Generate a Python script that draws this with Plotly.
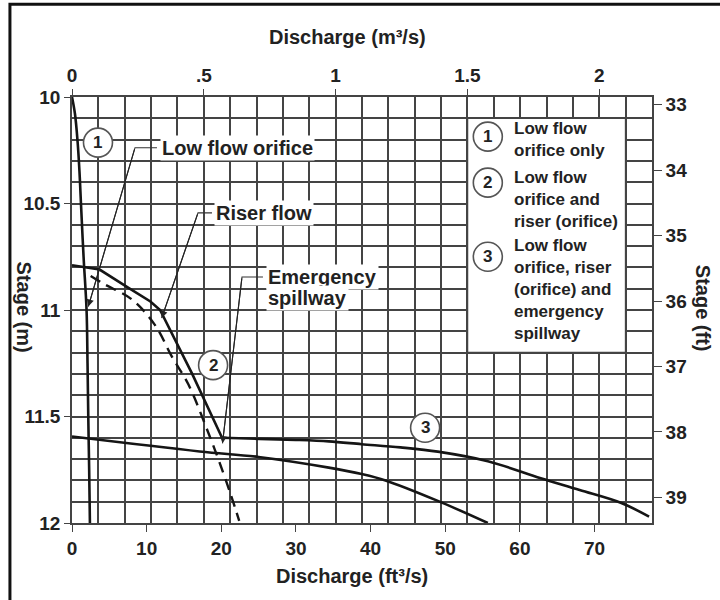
import plotly.graph_objects as go

# ---- stage–discharge data (discharge in ft³/s, stage in m) ----
orifice_q = [0, 0.4, 0.75, 1.0, 1.2, 1.55, 1.95, 2.08, 2.18, 2.3, 2.4]
orifice_stage = [10.0, 10.08, 10.21, 10.35, 10.5, 10.75, 11.0, 11.25, 11.5, 11.75, 12.0]

riser_q = [0, 3.7, 7.3, 10.5, 11.8, 16.1, 20.1]
riser_stage = [10.79, 10.81, 10.89, 10.96, 11.0, 11.3, 11.6]

spillway_q = [20.1, 25.1, 30.0, 34.4, 38.8, 44.0, 49.0, 55.7, 62.8, 68.0, 73.5, 77.3]
spillway_stage = [11.6, 11.605, 11.61, 11.617, 11.63, 11.645, 11.665, 11.71, 11.79, 11.845, 11.905, 11.97]

lower_q = [0, 17.1, 25.0, 34.4, 38.8, 42.0, 49.0, 55.7]
lower_stage = [11.594, 11.664, 11.69, 11.74, 11.77, 11.80, 11.896, 12.0]

dashed_q = [2.5, 4.4, 8.0, 11.1, 13.4, 15.6, 18.3, 19.7, 21.3, 22.4]
dashed_stage = [10.84, 10.88, 10.95, 11.07, 11.22, 11.35, 11.58, 11.71, 11.87, 11.99]

# ---- axis ticks ----
ft3_ticks = [0, 10, 20, 30, 40, 50, 60, 70]
m3_ticks = [0, 0.5, 1, 1.5, 2]
m3_labels = ["0", ".5", "1", "1.5", "2"]
stage_m_ticks = [10, 10.5, 11, 11.5, 12]
stage_m_labels = ["10", "10.5", "11", "11.5", "12"]
stage_ft_ticks = [33, 34, 35, 36, 37, 38, 39]

M3_MAX = 2.2
FT3_PER_M3 = 35.3147
FT3_MAX = M3_MAX * FT3_PER_M3

FONT = "Liberation Sans"
INK = "#222222"
GRID = "#444444"
LINE = "#151515"

fig = go.Figure()

# empty traces so the secondary (m³/s and ft) axes are drawn
fig.add_trace(go.Scatter(x=[], y=[], xaxis="x2", yaxis="y", hoverinfo="skip", showlegend=False))
fig.add_trace(go.Scatter(x=[], y=[], xaxis="x", yaxis="y2", hoverinfo="skip", showlegend=False))

curve_style = dict(color=LINE, width=2.6)
fig.add_trace(go.Scatter(x=orifice_q, y=orifice_stage, mode="lines", line=curve_style,
                         line_shape="spline", hoverinfo="skip", name="1"))
fig.add_trace(go.Scatter(x=riser_q, y=riser_stage, mode="lines", line=curve_style,
                         hoverinfo="skip", name="2"))
fig.add_trace(go.Scatter(x=spillway_q, y=spillway_stage, mode="lines", line=curve_style,
                         line_shape="spline", hoverinfo="skip", name="3"))
fig.add_trace(go.Scatter(x=lower_q, y=lower_stage, mode="lines", line=curve_style,
                         line_shape="spline", hoverinfo="skip", name="spillway"))
fig.add_trace(go.Scatter(x=dashed_q, y=dashed_stage, mode="lines",
                         line=dict(color=LINE, width=2.4, dash="11px,7px"),
                         line_shape="spline", hoverinfo="skip", name="dashed"))

shapes = []
annotations = []

# legend panel: white box sitting on the grid
legend_x0, legend_x1 = 1.5 * FT3_PER_M3, 2.1 * FT3_PER_M3
legend_y0, legend_y1 = 10.1, 11.2
shapes.append(dict(type="rect", xref="x", yref="y", x0=legend_x0, x1=legend_x1,
                   y0=legend_y0, y1=legend_y1, fillcolor="white",
                   line=dict(color=GRID, width=1.6), layer="between"))

# numbered circles: (discharge, stage, number)
circles = [
    (3.48, 10.214, "1"),
    (18.9, 11.259, "2"),
    (47.3, 11.553, "3"),
    (55.7, 10.186, "1"),
    (55.7, 10.402, "2"),
    (55.7, 10.75, "3"),
]
for cx, cy, num in circles:
    shapes.append(dict(type="circle", xref="x", yref="y", xsizemode="pixel", ysizemode="pixel",
                       xanchor=cx, yanchor=cy, x0=-14.5, x1=14.5, y0=-14.5, y1=14.5,
                       fillcolor="white", line=dict(color="#555555", width=1.6), layer="above"))
    annotations.append(dict(x=cx, y=cy, xref="x", yref="y", text=num, showarrow=False,
                            font=dict(family=FONT, size=17, color=INK, weight="bold")))

# legend text blocks
legend_text = [
    (10.198, "Low flow<br>orifice only"),
    (10.481, "Low flow<br>orifice and<br>riser (orifice)"),
    (10.906, "Low flow<br>orifice, riser<br>(orifice) and<br>emergency<br>spillway"),
]
for ly, txt in legend_text:
    annotations.append(dict(x=58.9, y=ly, xref="x", yref="y", text=txt, showarrow=False,
                            xanchor="left", yanchor="middle", align="left",
                            font=dict(family=FONT, size=17, color=INK, weight="bold")))

# callouts with elbow leaders: (label lines, text x, text y, start, elbow, tip)
callouts = [
    (["Low flow orifice"], 11.8, [10.238], (11.38, 10.238), (8.44, 10.238), (2.18, 10.984)),
    (["Riser flow"], 19.0, [10.544], (18.75, 10.544), (16.88, 10.544), (12.01, 11.038)),
    (["Emergency", "spillway"], 26.0, [10.845, 10.942], (25.58, 10.845), (22.77, 10.845), (20.16, 11.626)),
]
for lines, tx, tys, start, elbow, tip in callouts:
    for line_txt, ty in zip(lines, tys):
        annotations.append(dict(x=tx, y=ty, xref="x", yref="y", text=line_txt, showarrow=False,
                                xanchor="left", yanchor="middle", bgcolor="white", borderpad=1,
                                font=dict(family=FONT, size=20, color=INK, weight="bold")))
    shapes.append(dict(type="path", xref="x", yref="y",
                       path=f"M {start[0]} {start[1]} L {elbow[0]} {elbow[1]} L {tip[0]} {tip[1]}",
                       line=dict(color="#333333", width=1.1), layer="above"))
    annotations.append(dict(x=tip[0], y=tip[1], xref="x", yref="y", ax=elbow[0], ay=elbow[1],
                            axref="x", ayref="y", text="", showarrow=True,
                            arrowhead=2, arrowsize=1.3, arrowwidth=1.1, arrowcolor="#222222"))

# axis titles
title_font = dict(family=FONT, size=20, color=INK, weight="bold")
annotations += [
    dict(x=0.475, y=1.140, xref="paper", yref="paper", text="Discharge (m³/s)",
         xanchor="center", yanchor="middle", showarrow=False, font=title_font),
    dict(x=0.482, y=-0.124, xref="paper", yref="paper", text="Discharge (ft³/s)",
         xanchor="center", yanchor="middle", showarrow=False, font=title_font),
    dict(x=-0.083, y=0.506, xref="paper", yref="paper", text="Stage (m)", textangle=90,
         xanchor="center", yanchor="middle", showarrow=False, font=title_font),
    dict(x=1.088, y=0.505, xref="paper", yref="paper", text="Stage (ft)", textangle=90,
         xanchor="center", yanchor="middle", showarrow=False, font=title_font),
]

# outer frame
shapes.append(dict(type="rect", xref="paper", yref="paper", x0=-0.107, x1=1.2,
                   y0=-0.3, y1=1.2176, line=dict(color="#111111", width=3), layer="above"))

tick_font = dict(family=FONT, size=19, color=INK, weight="bold")
axis_common = dict(showline=True, linecolor=GRID, linewidth=1.6, ticks="outside",
                   tickcolor=GRID, tickwidth=1.4, tickfont=tick_font, zeroline=False,
                   fixedrange=True)

fig.update_layout(
    width=720, height=600,
    margin=dict(l=72, r=68, t=97, b=77),
    paper_bgcolor="white", plot_bgcolor="white",
    showlegend=False,
    xaxis=dict(range=[0, FT3_MAX], tickvals=ft3_ticks, ticklen=7, showgrid=False, **axis_common),
    xaxis2=dict(range=[0, M3_MAX], overlaying="x", side="top", anchor="y",
                tickvals=m3_ticks, ticktext=m3_labels, ticklen=6,
                showgrid=True, gridcolor=GRID, gridwidth=1.6,
                minor=dict(dtick=0.1, tick0=0, showgrid=True, gridcolor=GRID, gridwidth=1.6, ticks=""),
                **axis_common),
    yaxis=dict(range=[12, 10], tickvals=stage_m_ticks, ticktext=stage_m_labels, ticklen=6,
               showgrid=True, gridcolor=GRID, gridwidth=1.6,
               minor=dict(dtick=0.1, tick0=10, showgrid=True, gridcolor=GRID, gridwidth=1.6, ticks=""),
               **axis_common),
    yaxis2=dict(range=[39.39, 32.885], overlaying="y", side="right", anchor="x",
                tickvals=stage_ft_ticks, ticklen=8, showgrid=False, **axis_common),
    shapes=shapes,
    annotations=annotations,
)

fig.write_html("out.html")
